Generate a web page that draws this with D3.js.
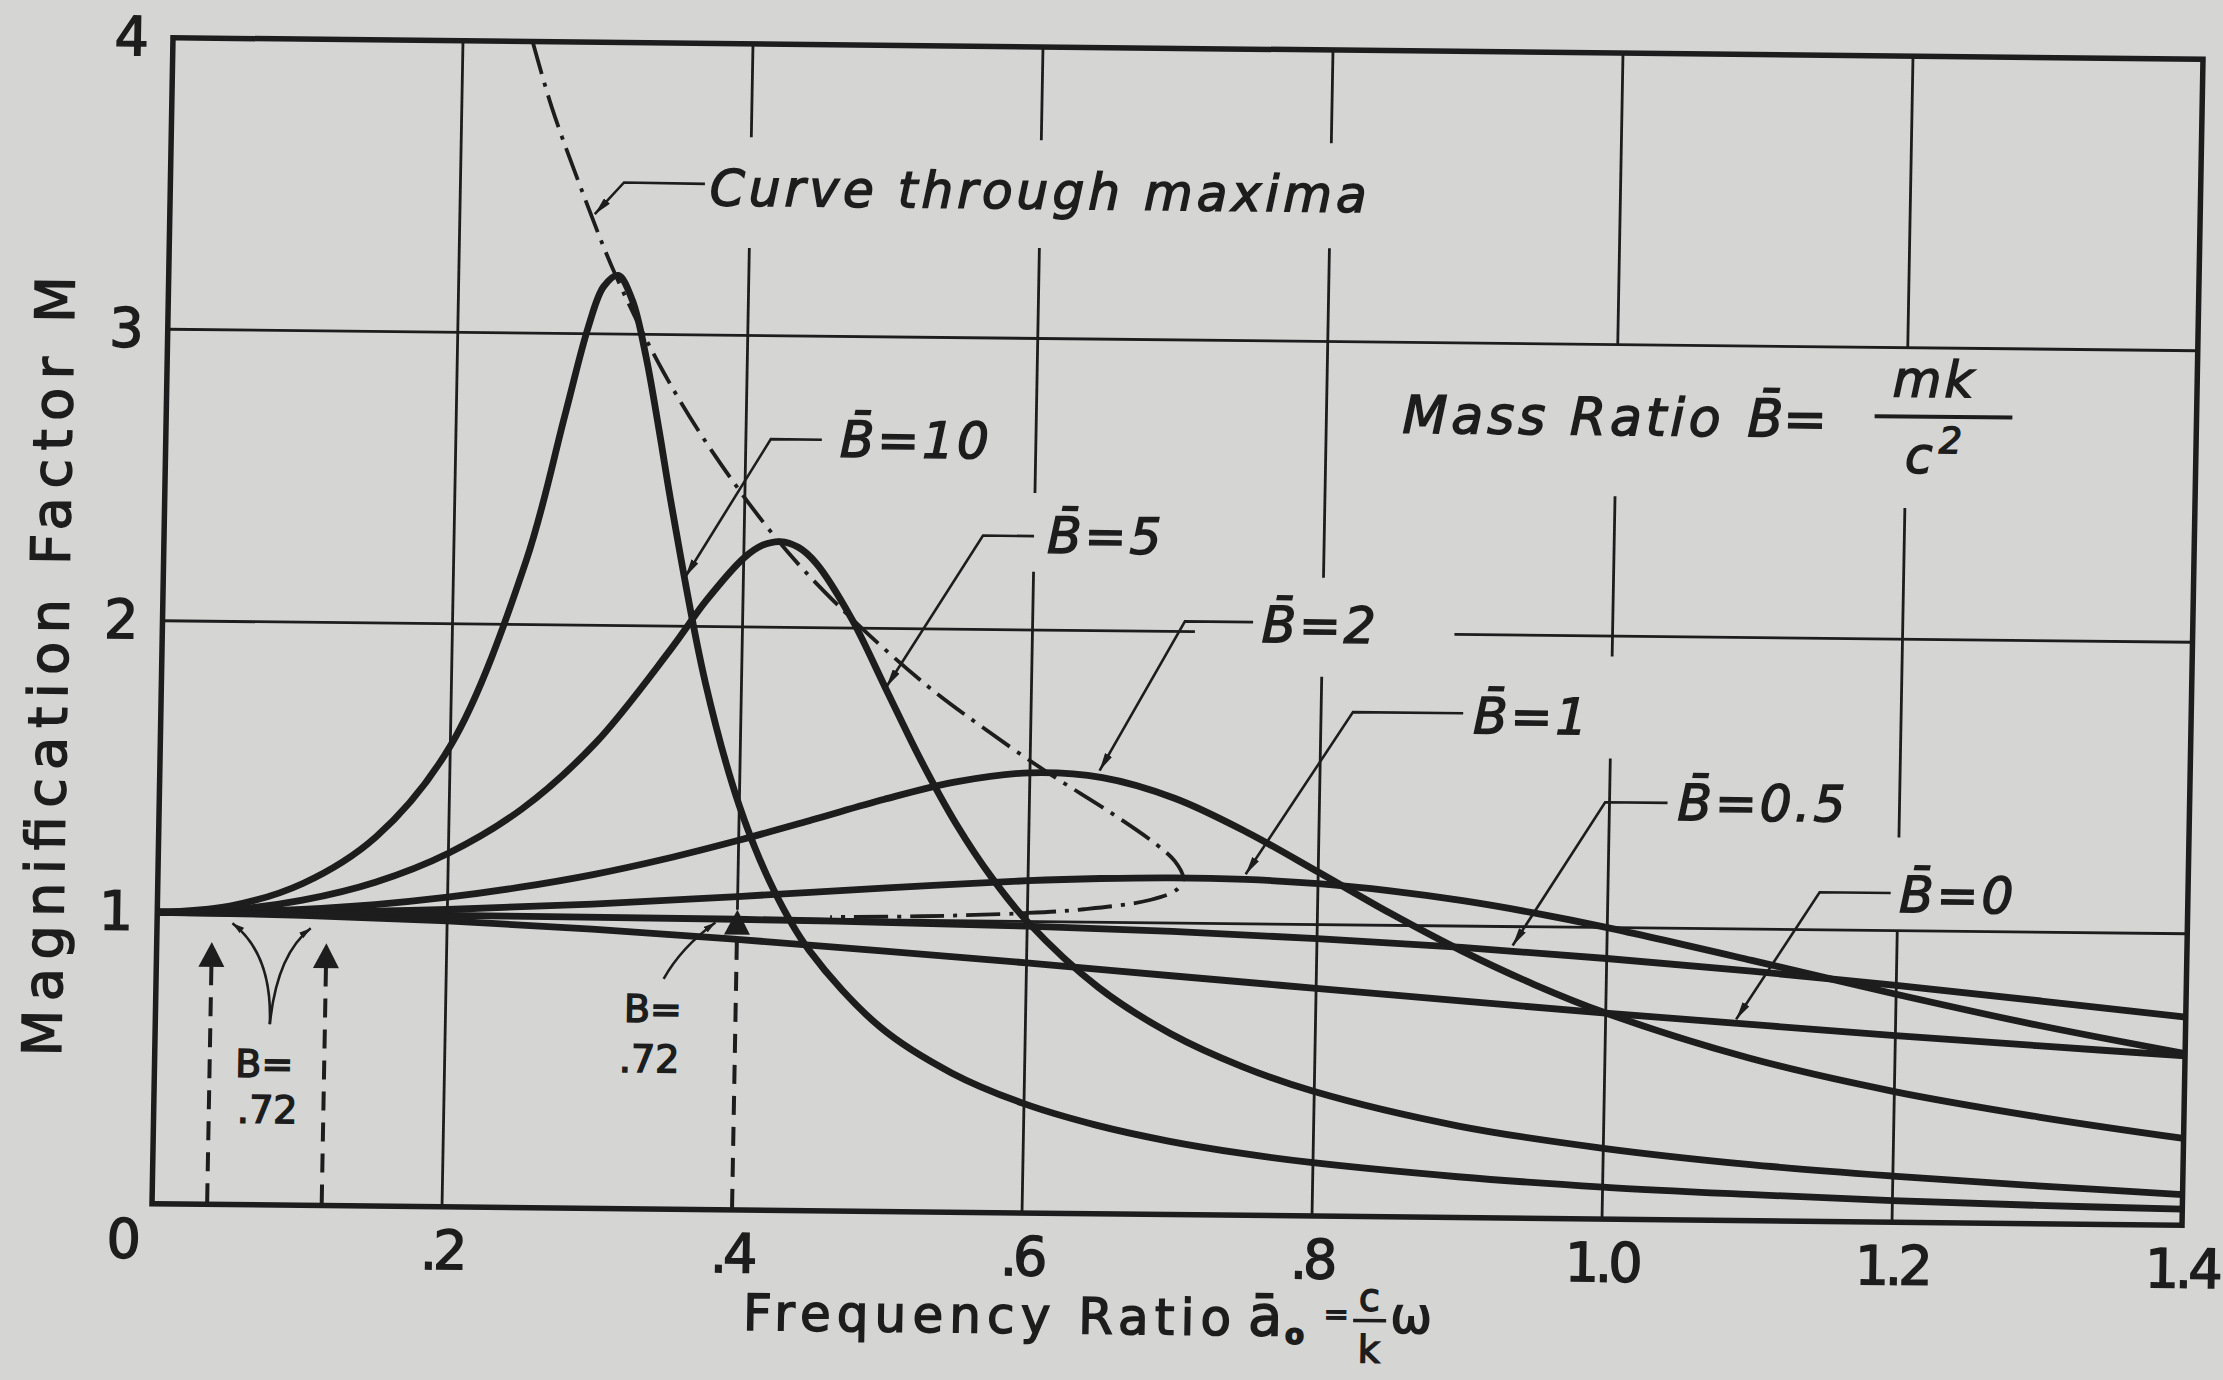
<!DOCTYPE html>
<html>
<head>
<meta charset="utf-8">
<script src="https://cdn.jsdelivr.net/npm/d3@7"></script>
<style>
  html, body { margin: 0; padding: 0; background: #d5d6d4; }
  svg { display: block; }
  text { font-family: "DejaVu Sans", sans-serif; fill: #1d1d1d; stroke: #1d1d1d; stroke-width: 1.5px; }
</style>
</head>
<body>
<svg id="chart" width="2223" height="1380"></svg>
<script>
// Magnification factor M of a spring–dashpot–mass system plotted against the
// frequency ratio a0 = (c/k)·ω, one curve per mass ratio B = mk/c².
// Each series is a list of [a0, M] pairs.

const massRatioLabels = ["B\u0304=10", "B\u0304=5", "B\u0304=2", "B\u0304=1", "B\u0304=0.5", "B\u0304=0"];

const curveB10 = [
  [0, 1], [0.05, 1.024], [0.1, 1.104], [0.15, 1.267], [0.2, 1.581], [0.25, 2.219],
  [0.275, 2.721], [0.29, 3.024], [0.3, 3.162], [0.31, 3.201], [0.32, 3.116], [0.33, 2.926],
  [0.34, 2.673], [0.35, 2.403], [0.375, 1.809], [0.4, 1.387], [0.425, 1.097], [0.45, 0.893],
  [0.5, 0.632], [0.55, 0.477], [0.6, 0.375], [0.65, 0.304], [0.7, 0.252], [0.75, 0.213],
  [0.8, 0.183], [0.9, 0.140], [1.0, 0.110], [1.1, 0.090], [1.2, 0.074], [1.3, 0.063], [1.4, 0.055]
];

const curveB5 = [
  [0, 1], [0.05, 1.011], [0.1, 1.047], [0.15, 1.111], [0.2, 1.213], [0.25, 1.367],
  [0.3, 1.596], [0.35, 1.915], [0.375, 2.091], [0.4, 2.236], [0.4125, 2.280], [0.425, 2.294],
  [0.4375, 2.275], [0.45, 2.221], [0.475, 2.033], [0.5, 1.789], [0.525, 1.546], [0.55, 1.330],
  [0.575, 1.149], [0.6, 1.000], [0.65, 0.776], [0.7, 0.621], [0.75, 0.510], [0.8, 0.427],
  [0.9, 0.314], [1.0, 0.243], [1.1, 0.193], [1.2, 0.158], [1.3, 0.130], [1.4, 0.105]
];

const curveB2 = [
  [0, 1], [0.05, 1.004], [0.1, 1.015], [0.15, 1.034], [0.2, 1.062], [0.25, 1.099],
  [0.3, 1.145], [0.35, 1.202], [0.4, 1.268], [0.45, 1.340], [0.5, 1.414], [0.55, 1.477],
  [0.6, 1.510], [0.65, 1.496], [0.7, 1.428], [0.75, 1.315], [0.8, 1.180], [0.85, 1.042],
  [0.9, 0.915], [0.95, 0.803], [1.0, 0.707], [1.1, 0.557], [1.2, 0.448], [1.3, 0.366], [1.4, 0.298]
];

const curveB1 = [
  [0, 1], [0.1, 1.005], [0.2, 1.020], [0.3, 1.044], [0.4, 1.075], [0.5, 1.109],
  [0.6, 1.140], [0.65, 1.150], [0.7, 1.155], [0.75, 1.152], [0.8, 1.140], [0.85, 1.118],
  [0.9, 1.087], [0.95, 1.047], [1.0, 1.000], [1.1, 0.893], [1.2, 0.782], [1.3, 0.679], [1.4, 0.589]
];

const curveB05 = [
  [0, 1], [0.2, 1.000], [0.4, 0.997], [0.5, 0.992], [0.6, 0.984], [0.7, 0.971],
  [0.8, 0.952], [0.9, 0.927], [1.0, 0.894], [1.1, 0.856], [1.2, 0.812], [1.3, 0.764], [1.4, 0.714]
];

const curveB0 = [
  [0, 1], [0.1, 0.995], [0.2, 0.981], [0.3, 0.958], [0.4, 0.928], [0.5, 0.894],
  [0.6, 0.858], [0.7, 0.819], [0.8, 0.781], [0.9, 0.743], [1.0, 0.707], [1.1, 0.673],
  [1.2, 0.640], [1.3, 0.610], [1.4, 0.581]
];

// locus of the resonance peaks, from very large B down to B ≈ 0.57
const maximaLocus = [
  [0.248, 4.00], [0.262, 3.776], [0.283, 3.501], [0.308, 3.203], [0.342, 2.874], [0.377, 2.600],
  [0.424, 2.294], [0.468, 2.066], [0.527, 1.809], [0.566, 1.667], [0.612, 1.512], [0.656, 1.377],
  [0.688, 1.269], [0.701, 1.212], [0.707, 1.155], [0.703, 1.116], [0.685, 1.079], [0.639, 1.044],
  [0.596, 1.028], [0.527, 1.014], [0.464, 1.008]
];

const xTickValues = [0, 0.2, 0.4, 0.6, 0.8, 1.0, 1.2, 1.4];
const xTickLabels = ["0", ".2", ".4", ".6", ".8", "1.0", "1.2", "1.4"];
const yTickValues = [1, 2, 3, 4];
const yTickLabels = ["1", "2", "3", "4"];

// frequency ratios marked by dashed arrows
const markedFrequencies = [0.038, 0.117, 0.4];

// ---------------------------------------------------------------------------
const INK = "#1d1d1d";
const W = 2030, H = 1166;

const svg = d3.select("#chart");
svg.append("rect").attr("width", 2223).attr("height", 1380).attr("fill", "#d5d6d4");

const defs = svg.append("defs");
defs.append("marker")
  .attr("id", "tip").attr("viewBox", "0 0 10 10").attr("refX", 10).attr("refY", 5)
  .attr("markerWidth", 18).attr("markerHeight", 8).attr("markerUnits", "userSpaceOnUse")
  .attr("preserveAspectRatio", "none").attr("orient", "auto")
  .append("path").attr("d", "M0,0 L10,5 L0,10 Z").attr("fill", INK);
defs.append("marker")
  .attr("id", "smalltip").attr("viewBox", "0 0 10 10").attr("refX", 10).attr("refY", 5)
  .attr("markerWidth", 12).attr("markerHeight", 7).attr("markerUnits", "userSpaceOnUse")
  .attr("preserveAspectRatio", "none").attr("orient", "auto")
  .append("path").attr("d", "M0,0 L10,5 L0,10 Z").attr("fill", INK);
defs.append("clipPath").attr("id", "plotClip")
  .append("rect").attr("x", 0).attr("y", 0).attr("width", W).attr("height", H);

// the sheet sits slightly askew: a small tilt and lean for the whole figure
const g = svg.append("g").attr("transform", "matrix(1,0.01059,-0.018,1,173,37.75)");

const x = d3.scaleLinear().domain([0, 1.4]).range([0, W]);
const y = d3.scaleLinear().domain([0, 4]).range([H, 0]);

// grid, broken where lettering sits
const vGrid = [
  { a: 0.2, spans: [[0, 4]] },
  { a: 0.4, spans: [[1.03, 3.30], [3.68, 4]] },
  { a: 0.6, spans: [[0, 2.20], [2.47, 3.31], [3.68, 4]] },
  { a: 0.8, spans: [[0, 1.85], [2.19, 3.32], [3.68, 4]] },
  { a: 1.0, spans: [[0, 1.58], [1.93, 2.48], [3.0, 4]] },
  { a: 1.2, spans: [[0, 1.0], [1.32, 2.45], [3.0, 4]] }
];
const hGrid = [
  { m: 1, spans: [[0, 1.4]] },
  { m: 2, spans: [[0, 0.712], [0.891, 1.4]] },
  { m: 3, spans: [[0, 1.4]] }
];
const grid = g.append("g").attr("stroke", INK).attr("stroke-width", 2.8);
vGrid.forEach(v => v.spans.forEach(s => {
  grid.append("line").attr("x1", x(v.a)).attr("x2", x(v.a)).attr("y1", y(s[0])).attr("y2", y(s[1]));
}));
hGrid.forEach(h => h.spans.forEach(s => {
  grid.append("line").attr("x1", x(s[0])).attr("x2", x(s[1])).attr("y1", y(h.m)).attr("y2", y(h.m));
}));

// frame
g.append("rect").attr("x", 0).attr("y", 0).attr("width", W).attr("height", H)
  .attr("fill", "none").attr("stroke", INK).attr("stroke-width", 5.5);

// response curves
const smooth = d3.line().x(d => x(d[0])).y(d => y(d[1])).curve(d3.curveCatmullRom.alpha(0.5));
const curves = g.append("g").attr("clip-path", "url(#plotClip)");
curves.selectAll("path.resp")
  .data([curveB10, curveB5, curveB2, curveB1, curveB05, curveB0])
  .join("path").attr("class", "resp")
  .attr("d", smooth).attr("fill", "none").attr("stroke", INK)
  .attr("stroke-width", 6.8).attr("stroke-linecap", "round").attr("stroke-linejoin", "round");

curves.append("path").datum(maximaLocus)
  .attr("d", smooth).attr("fill", "none").attr("stroke", INK)
  .attr("stroke-width", 3.8).attr("stroke-dasharray", "34 9 4 9");

// axes
const xAxis = g.append("g").attr("transform", `translate(0,${H})`)
  .call(d3.axisBottom(x).tickValues(xTickValues).tickFormat((d, i) => xTickLabels[i])
    .tickSize(0).tickPadding(24));
xAxis.select(".domain").remove();
xAxis.attr("font-size", 54).attr("font-family", "DejaVu Sans, sans-serif").attr("color", INK);
xAxis.selectAll("text").attr("letter-spacing", -4);
xAxis.selectAll(".tick").filter(d => d === 0).select("text").attr("x", -30).attr("y", 16);

const yAxis = g.append("g")
  .call(d3.axisLeft(y).tickValues(yTickValues).tickFormat((d, i) => yTickLabels[i])
    .tickSize(0).tickPadding(24));
yAxis.select(".domain").remove();
yAxis.attr("font-size", 54).attr("font-family", "DejaVu Sans, sans-serif").attr("color", INK);

// axis titles
g.append("text").attr("transform", `translate(-94,${y(1.84)}) rotate(-90)`)
  .attr("text-anchor", "middle").attr("font-size", 54)
  .attr("textLength", 780).attr("lengthAdjust", "spacing")
  .text("Magnification Factor M");

const xt = g.append("g");
xt.append("text").attr("x", 593).attr("y", H + 120).attr("font-size", 50)
  .attr("textLength", 488).attr("lengthAdjust", "spacing").text("Frequency Ratio");
xt.append("text").attr("x", 1098).attr("y", H + 120).attr("font-size", 56).text("a\u0304");
xt.append("text").attr("x", 1135).attr("y", H + 128).attr("font-size", 28).attr("font-weight", "bold").text("o");
xt.append("text").attr("x", 1186).attr("y", H + 108).attr("font-size", 30).attr("text-anchor", "middle").text("=");
xt.append("text").attr("x", 1219).attr("y", H + 94).attr("font-size", 38).attr("text-anchor", "middle").text("c");
xt.append("line").attr("x1", 1203).attr("x2", 1236).attr("y1", H + 104).attr("y2", H + 104)
  .attr("stroke", INK).attr("stroke-width", 3.5);
xt.append("text").attr("x", 1219).attr("y", H + 146).attr("font-size", 38).attr("text-anchor", "middle").text("k");
xt.append("text").attr("x", 1240).attr("y", H + 116).attr("font-size", 50).text("\u03C9");

// curve labels with leaders
const leader = d3.line().x(d => x(d[0])).y(d => y(d[1]));
const curveNotes = [
  { text: "Curve through maxima", at: [0.372, 3.445], width: 657,
    path: [[0.3686, 3.518], [0.3128, 3.52], [0.293, 3.41]] },
  { text: massRatioLabels[0], at: [0.465, 2.587],
    path: [[0.4524, 2.645], [0.4172, 2.645], [0.36, 2.17]] },
  { text: massRatioLabels[1], at: [0.609, 2.265],
    path: [[0.5999, 2.322], [0.5647, 2.322], [0.5, 1.80]] },
  { text: massRatioLabels[2], at: [0.758, 1.967],
    path: [[0.752, 2.035], [0.705, 2.035], [0.648, 1.52]] },
  { text: massRatioLabels[3], at: [0.905, 1.662],
    path: [[0.898, 1.730], [0.822, 1.730], [0.75, 1.17]] },
  { text: massRatioLabels[4], at: [1.047, 1.372],
    path: [[1.040, 1.43], [0.997, 1.43], [0.935, 0.935]] },
  { text: massRatioLabels[5], at: [1.201, 1.064],
    path: [[1.195, 1.129], [1.146, 1.129], [1.09, 0.69]] }
];
curveNotes.forEach(n => {
  const t = g.append("text").attr("x", x(n.at[0])).attr("y", y(n.at[1]))
    .attr("font-size", 50).attr("font-style", "italic").attr("letter-spacing", 3).text(n.text);
  if (n.width) t.attr("textLength", n.width).attr("lengthAdjust", "spacing").attr("letter-spacing", null);
  g.append("path").attr("d", leader(n.path)).attr("fill", "none").attr("stroke", INK)
    .attr("stroke-width", 2.6).attr("marker-end", "url(#tip)");
});

// mass ratio definition
g.append("text").attr("x", x(0.8525)).attr("y", y(2.69)).attr("font-size", 52).attr("font-style", "italic")
  .attr("textLength", 318).attr("lengthAdjust", "spacing").text("Mass Ratio");
g.append("text").attr("x", x(1.0905)).attr("y", y(2.69)).attr("font-size", 52).attr("font-style", "italic")
  .text("B\u0304=");
g.append("line").attr("x1", x(1.178)).attr("x2", x(1.273)).attr("y1", y(2.764)).attr("y2", y(2.764))
  .attr("stroke", INK).attr("stroke-width", 4);
g.append("text").attr("x", x(1.219)).attr("y", y(2.832)).attr("font-size", 50).attr("font-style", "italic")
  .attr("text-anchor", "middle").attr("letter-spacing", 3).text("mk");
const c2 = g.append("text").attr("x", x(1.219)).attr("y", y(2.571)).attr("font-size", 50)
  .attr("font-style", "italic").attr("text-anchor", "middle");
c2.append("tspan").text("c");
c2.append("tspan").attr("font-size", 36).attr("dx", 6).attr("dy", -20).text("2");

// dashed arrows at the marked frequencies
const arrowTips = [0.90, 0.90, 1.03];
markedFrequencies.forEach((a, i) => {
  const tipY = y(arrowTips[i]);
  g.append("line").attr("x1", x(a)).attr("x2", x(a)).attr("y1", y(0) - 2).attr("y2", tipY + 22)
    .attr("stroke", INK).attr("stroke-width", 4).attr("stroke-dasharray", "19 12");
  g.append("path").attr("d", `M${x(a)},${tipY} l-13,25 l26,0 Z`).attr("fill", INK);
});

// forked pointer and notes
const fork = [
  `M${x(0.079)},${y(0.62)} Q${x(0.080)},${y(0.86)} ${x(0.052)},${y(0.965)}`,
  `M${x(0.079)},${y(0.62)} Q${x(0.083)},${y(0.86)} ${x(0.106)},${y(0.951)}`,
  `M${x(0.35)},${y(0.79)} Q${x(0.362)},${y(0.90)} ${x(0.385)},${y(0.985)}`
];
fork.forEach(d => g.append("path").attr("d", d).attr("fill", "none").attr("stroke", INK)
  .attr("stroke-width", 2.6).attr("marker-end", "url(#smalltip)"));

const notes = [
  { t: "B=", at: [0.0757, 0.439] }, { t: ".72", at: [0.0783, 0.281] },
  { t: "B=", at: [0.343, 0.641] }, { t: ".72", at: [0.341, 0.469] }
];
notes.forEach(n => g.append("text").attr("x", x(n.at[0])).attr("y", y(n.at[1]))
  .attr("font-size", 38).attr("text-anchor", "middle").text(n.t));
</script>
</body>
</html>
